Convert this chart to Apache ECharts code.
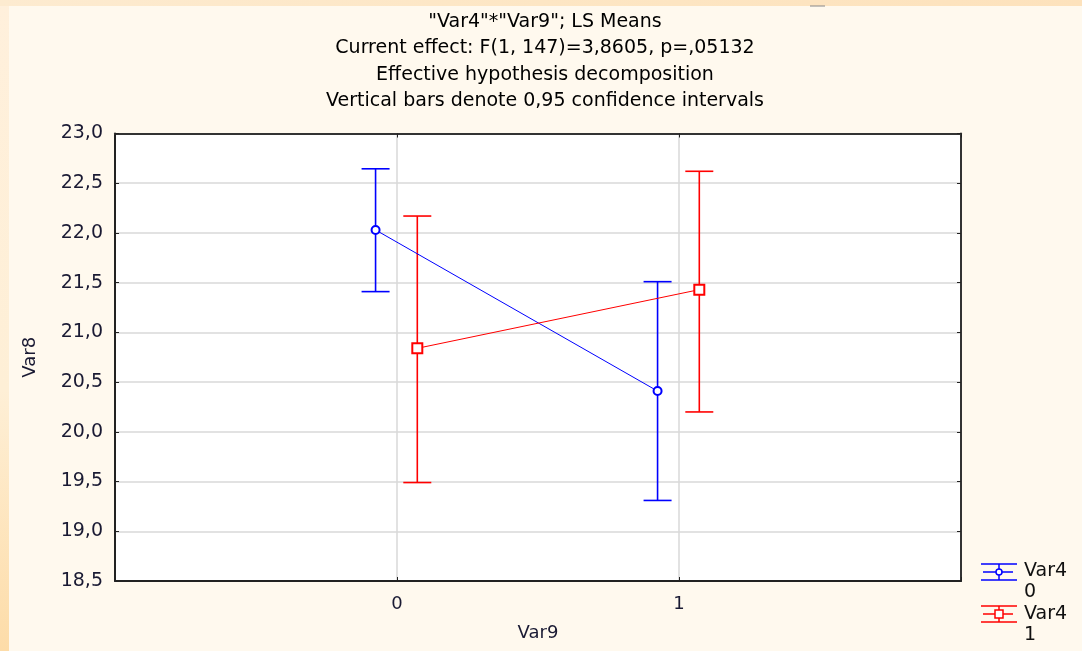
<!DOCTYPE html>
<html>
<head>
<meta charset="utf-8">
<script src="https://cdn.jsdelivr.net/npm/echarts@6/dist/echarts.min.js"></script>
<style>
html,body{margin:0;padding:0;width:1082px;height:651px;overflow:hidden;}
body{background:#FFF9EE;position:relative;}
#leftStrip{position:absolute;left:0;top:0;width:9px;height:651px;background:linear-gradient(to bottom,#FFF0DC 0%,#FEEFD6 60%,#FDDCA8 100%);}
#topStrip{position:absolute;left:0;top:0;width:1082px;height:6px;background:linear-gradient(to right,#FDEBD0,#FDE6C4 50%,#FDE2BC);}
#chart{position:absolute;left:0;top:0;width:1082px;height:651px;}
</style>
</head>
<body>
<div id="leftStrip"></div>
<div id="topStrip"></div>
<div id="chart"></div>
<script>
// ---- data ----
var var9Levels = [0, 1];
var var4Levels = ['0', '1'];
var meanVar4_0 = [22.03, 20.41];
var lowerVar4_0 = [21.41, 19.31];
var upperVar4_0 = [22.645, 21.51];
var meanVar4_1 = [20.84, 21.43];
var lowerVar4_1 = [19.49, 20.20];
var upperVar4_1 = [22.17, 22.62];
var yTicks = [18.5, 19.0, 19.5, 20.0, 20.5, 21.0, 21.5, 22.0, 22.5, 23.0];
var titleLines = ['"Var4"*"Var9"; LS Means', 'Current effect: F(1, 147)=3,8605, p=,05132', 'Effective hypothesis decomposition', 'Vertical bars denote 0,95 confidence intervals'];

var dodge = [-0.076, 0.072];
var colors = ['#0000FF', '#FF0000'];

function pts(means, k) {
  return var9Levels.map(function (x, i) { return [x + dodge[k], means[i]]; });
}
function bars(lows, highs, k) {
  return var9Levels.map(function (x, i) { return [x + dodge[k], lows[i], highs[i]]; });
}
function errRender(color) {
  return function (params, api) {
    var x = api.value(0);
    var lo = api.coord([x, api.value(1)]);
    var hi = api.coord([x, api.value(2)]);
    var hw = 14;
    var st = { stroke: color, lineWidth: 1.6 };
    return {
      type: 'group',
      children: [
        { type: 'line', shape: { x1: lo[0], y1: lo[1], x2: hi[0], y2: hi[1] }, style: st },
        { type: 'line', shape: { x1: lo[0] - hw, y1: lo[1], x2: lo[0] + hw, y2: lo[1] }, style: st },
        { type: 'line', shape: { x1: hi[0] - hw, y1: hi[1], x2: hi[0] + hw, y2: hi[1] }, style: st }
      ]
    };
  };
}

function legendGlyph(cx, cy, color, marker) {
  var st = { stroke: color, lineWidth: 1.5, fill: null };
  var ch = [
    { type: 'line', shape: { x1: cx - 18, y1: cy - 8, x2: cx + 18, y2: cy - 8 }, style: st },
    { type: 'line', shape: { x1: cx - 18, y1: cy + 8, x2: cx + 18, y2: cy + 8 }, style: st },
    { type: 'line', shape: { x1: cx, y1: cy - 8, x2: cx, y2: cy + 8 }, style: st },
    { type: 'line', shape: { x1: cx - 16, y1: cy, x2: cx + 14, y2: cy }, style: st }
  ];
  if (marker === 'circle') ch.push({ type: 'circle', shape: { cx: cx, cy: cy, r: 3 }, style: { stroke: color, lineWidth: 1.5, fill: '#fff' } });
  else ch.push({ type: 'rect', shape: { x: cx - 4, y: cy - 4, width: 8, height: 8 }, style: { stroke: color, lineWidth: 1.5, fill: '#fff' } });
  return ch;
}

var chart = echarts.init(document.getElementById('chart'));
var fontFam = '"DejaVu Sans", Verdana, sans-serif';
var graphics = [];
titleLines.forEach(function (t, i) {
  graphics.push({ type: 'text', x: 545, y: 22 + i * 26.5, z: 10,
    style: { text: t, font: '19px ' + fontFam, fill: '#000', textAlign: 'center', textVerticalAlign: 'middle' } });
});
graphics = graphics.concat(legendGlyph(999, 572, colors[0], 'circle'));
graphics = graphics.concat(legendGlyph(999, 614, colors[1], 'rect'));
graphics.push({ type: 'text', x: 1024, y: 561, style: { text: 'Var4\n' + var4Levels[0], font: '19px ' + fontFam, fill: '#111', lineHeight: 21 } });
graphics.push({ type: 'text', x: 1024, y: 604, style: { text: 'Var4\n' + var4Levels[1], font: '19px ' + fontFam, fill: '#111', lineHeight: 21 } });
graphics.push({ type: 'line', shape: { x1: 810, y1: 6, x2: 825, y2: 6 }, style: { stroke: '#888', lineWidth: 1 } });

var borderAxisCommon = {
  axisLine: { show: true, onZero: false, lineStyle: { color: '#333', width: 2 } },
  axisTick: { show: true, inside: true, length: 4, lineStyle: { color: '#222' } },
  axisLabel: { show: false },
  splitLine: { show: false }
};

chart.setOption({
  backgroundColor: 'transparent',
  animation: false,
  graphic: graphics,
  grid: { left: 115, right: 121, top: 133.5, bottom: 70, show: true, backgroundColor: '#fff', borderWidth: 0 },
  xAxis: [{
    type: 'value', min: -1, max: 2, interval: 1,
    name: 'Var9', nameLocation: 'middle', nameGap: 43,
    nameTextStyle: { fontSize: 18, color: '#1a1a33', fontFamily: fontFam },
    axisLine: { show: true, onZero: false, lineStyle: { color: '#222', width: 2 } },
    axisTick: { show: true, inside: true, length: 4, lineStyle: { color: '#222' } },
    axisLabel: { fontSize: 18, color: '#1a1a33', fontFamily: fontFam, margin: 14,
      formatter: function (v) { return var9Levels.indexOf(v) >= 0 ? String(v) : ''; } },
    splitLine: { show: true, lineStyle: { color: '#d9d9d9', width: 1.5 } }
  }, Object.assign({ type: 'value', position: 'top', min: -1, max: 2, interval: 1 }, borderAxisCommon)],
  yAxis: [{
    type: 'value', min: yTicks[0], max: yTicks[yTicks.length - 1], interval: 0.5,
    name: 'Var8', nameLocation: 'middle', nameGap: 76, nameRotate: 90,
    nameTextStyle: { fontSize: 18, color: '#1a1a33', fontFamily: fontFam },
    axisLine: { show: true, onZero: false, lineStyle: { color: '#222', width: 2 } },
    axisTick: { show: true, inside: true, length: 4, lineStyle: { color: '#222' } },
    axisLabel: { fontSize: 19, color: '#1a1a33', fontFamily: fontFam, margin: 12,
      formatter: function (v) { return v.toFixed(1).replace('.', ','); } },
    splitLine: { show: true, lineStyle: { color: '#d9d9d9', width: 1.5 } }
  }, Object.assign({ type: 'value', position: 'right', min: yTicks[0], max: yTicks[yTicks.length - 1], interval: 0.5 }, borderAxisCommon)],
  series: [
    { type: 'custom', name: 'Var4 0 CI', renderItem: errRender(colors[0]), data: bars(lowerVar4_0, upperVar4_0, 0), z: 3 },
    { type: 'custom', name: 'Var4 1 CI', renderItem: errRender(colors[1]), data: bars(lowerVar4_1, upperVar4_1, 1), z: 3 },
    { type: 'line', name: 'Var4 0', data: pts(meanVar4_0, 0), symbol: 'emptyCircle', symbolSize: 8,
      lineStyle: { color: colors[0], width: 1 }, itemStyle: { color: colors[0], borderWidth: 1.3 }, z: 4 },
    { type: 'line', name: 'Var4 1', data: pts(meanVar4_1, 1), symbol: 'emptyRect', symbolSize: 10,
      lineStyle: { color: colors[1], width: 1 }, itemStyle: { color: colors[1], borderWidth: 1.3 }, z: 4 }
  ]
});
</script>
</body>
</html>
